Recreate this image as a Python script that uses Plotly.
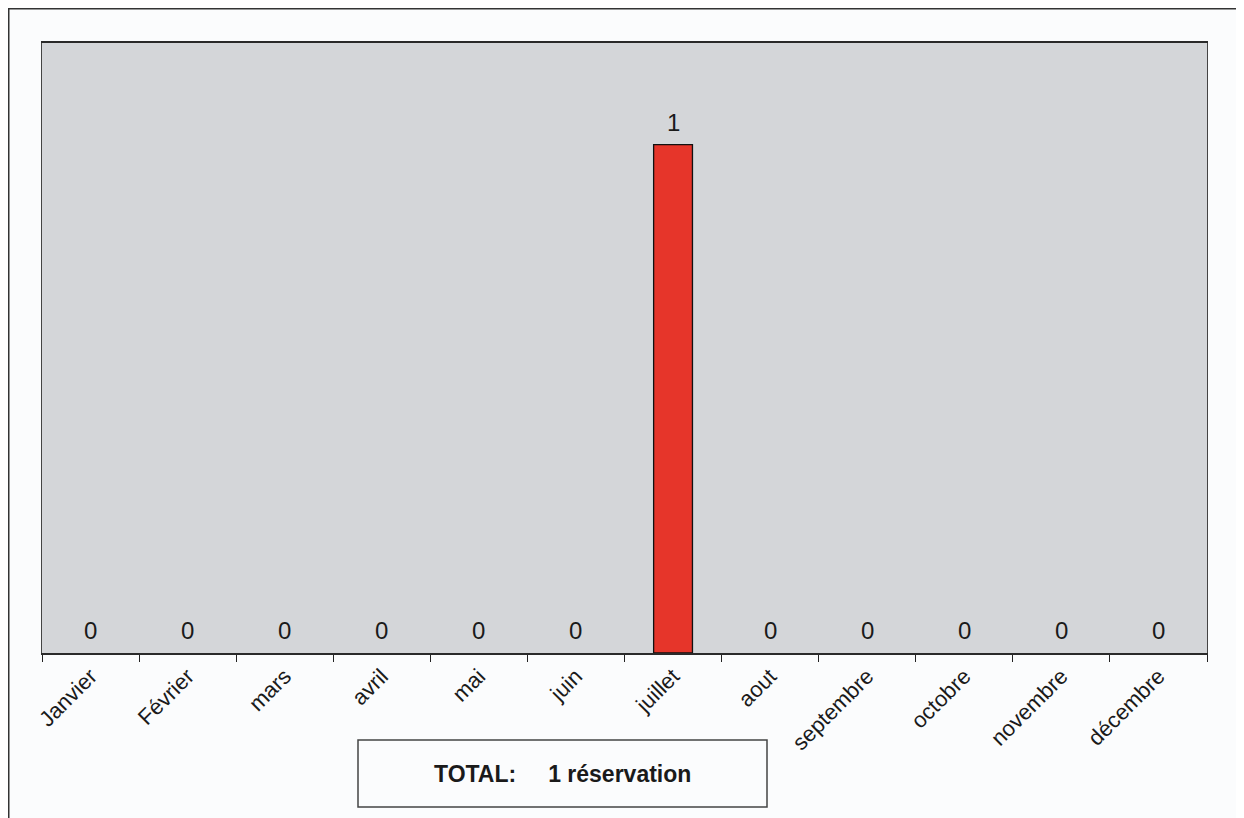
"""Réservations par mois - bar chart."""

import plotly.graph_objects as go

MONTHS = [
    "Janvier", "Février", "mars", "avril", "mai", "juin",
    "juillet", "aout", "septembre", "octobre", "novembre", "décembre",
]
RESERVATIONS = [0, 0, 0, 0, 0, 0, 1, 0, 0, 0, 0, 0]
TOTAL_TEXT = "TOTAL:&nbsp;&nbsp;&nbsp;&nbsp;&nbsp;1 réservation"

FONT = "Liberation Sans, Arial, sans-serif"

# the page adds an 8px body margin, so the figure is a bit smaller
OFF = 8
W, H = 1244 - OFF, 818 - OFF
# plot area on screen: x 42..1207, y 43..653
M_L, M_R, M_T, M_B = 42 - OFF, 37, 43 - OFF, 165
PW = W - M_L - M_R
PH = H - M_T - M_B


def px_x(x):
    """screen x pixel -> paper coordinate"""
    return (x - OFF - M_L) / PW


def px_y(y):
    """screen y pixel -> paper coordinate"""
    return (H - M_B - (y - OFF)) / PH


fig = go.Figure()

fig.add_trace(
    go.Bar(
        x=MONTHS,
        y=RESERVATIONS,
        width=0.4,
        marker_color="#e6352a",
        marker_line={
            "color": "#111111",
            "width": [1.3 if v else 0 for v in RESERVATIONS],
        },
        hoverinfo="x+y",
    )
)

# value labels above each bar
annotations = []
for month, value in zip(MONTHS, RESERVATIONS):
    annotations.append(
        {
            "x": month,
            "y": value,
            "xref": "x",
            "yref": "y",
            "text": str(value),
            "showarrow": False,
            "yanchor": "bottom",
            "yshift": 7,
            "font": {"family": FONT, "size": 24, "color": "#1a1a1a"},
        }
    )

# total box below the axis
annotations.append(
    {
        "x": (px_x(358) + px_x(767)) / 2,
        "y": (px_y(740) + px_y(807)) / 2,
        "xref": "paper",
        "yref": "paper",
        "text": f"<b>{TOTAL_TEXT}</b>",
        "showarrow": False,
        "xanchor": "center",
        "yanchor": "middle",
        "font": {"family": FONT, "size": 23, "color": "#1a1a1a"},
    }
)

shapes = [
    # outer chart border (right and bottom run off the page)
    {
        "type": "rect",
        "xref": "paper",
        "yref": "paper",
        "x0": px_x(8.75),
        "x1": px_x(1270),
        "y0": px_y(850),
        "y1": px_y(8.75),
        "line": {"color": "#333333", "width": 1.5},
        "layer": "below",
    },
    {
        "type": "rect",
        "xref": "paper",
        "yref": "paper",
        "x0": px_x(358),
        "x1": px_x(767),
        "y0": px_y(807),
        "y1": px_y(740),
        "line": {"color": "#444444", "width": 1.5},
        "fillcolor": "#fbfcfd",
    },
]

fig.update_layout(
    width=W,
    height=H,
    margin={"l": M_L, "r": M_R, "t": M_T, "b": M_B},
    paper_bgcolor="#fbfcfd",
    plot_bgcolor="#d4d6d9",
    showlegend=False,
    font={"family": FONT, "size": 22, "color": "#1a1a1a"},
    annotations=annotations,
    shapes=shapes,
    xaxis={
        "type": "category",
        "tickangle": -45,
        "ticks": "outside",
        "tickson": "boundaries",
        "ticklen": 7,
        "tickcolor": "#222222",
        "tickwidth": 1.3,
        "showline": True,
        "linecolor": "#2a2a2a",
        "linewidth": 1.5,
        "mirror": True,
        "showgrid": False,
        "tickfont": {"family": FONT, "size": 22, "color": "#1a1a1a"},
    },
    yaxis={
        "range": [0, 1.2],
        "showticklabels": False,
        "ticks": "",
        "showgrid": False,
        "zeroline": False,
        "showline": True,
        "linecolor": "#444444",
        "linewidth": 1.3,
        "mirror": True,
    },
)

fig.write_html("out.html")
